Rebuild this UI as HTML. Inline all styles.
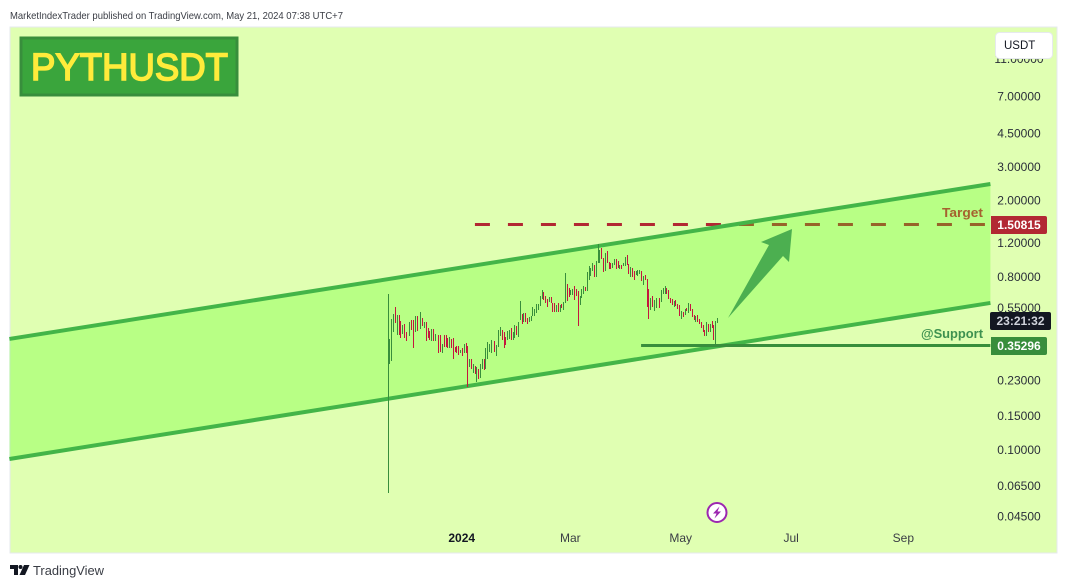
<!DOCTYPE html>
<html lang="en">
<head>
<meta charset="utf-8">
<title>PYTHUSDT chart</title>
<style>
html,body{margin:0;padding:0;background:#fff;}
body{width:1067px;height:588px;overflow:hidden;font-family:"Liberation Sans",sans-serif;}
svg{display:block;}
text{font-family:"Liberation Sans",sans-serif;}
</style>
</head>
<body>
<svg id="chart" xmlns="http://www.w3.org/2000/svg" width="1067" height="588" viewBox="0 0 1067 588">
  <rect x="0" y="0" width="1067" height="588" fill="#ffffff"/>
  <text x="10" y="19" font-size="10.5" fill="#3a3d45" textLength="333" lengthAdjust="spacingAndGlyphs">MarketIndexTrader published on TradingView.com, May 21, 2024 07:38 UTC+7</text>
  <rect x="10" y="27" width="1047" height="526" fill="#e0ffb2" stroke="#e6e9ee" stroke-width="1"/>
  <g id="plot"></g>
  <g id="yaxis"></g>
  <g id="xaxis"></g>

  <g>
    <rect x="21" y="38" width="216" height="57" fill="#3aa53c" stroke="#388e3c" stroke-width="3"/>
    <text x="31" y="80" font-size="38" font-weight="400" fill="#ffeb3b" stroke="#ffeb3b" stroke-width="1.6" textLength="197" lengthAdjust="spacingAndGlyphs">PYTHUSDT</text>
  </g>

  <text x="983" y="217" text-anchor="end" font-size="13" font-weight="700" fill="#a5622f" textLength="41" lengthAdjust="spacingAndGlyphs">Target</text>
  <text x="983" y="338" text-anchor="end" font-size="13" font-weight="700" fill="#3d9150" textLength="62" lengthAdjust="spacingAndGlyphs">@Support</text>

  <g>
    <rect x="995.5" y="32.5" width="57" height="26" rx="4" fill="#ffffff" stroke="#e6e9ee"/>
    <text x="1004" y="49" font-size="11.5" fill="#131722">USDT</text>
  </g>

  <g>
    <path d="M991 216H1045a2 2 0 0 1 2 2V232a2 2 0 0 1 -2 2H991Z" fill="#b22833"/>
    <text x="1019" y="229" text-anchor="middle" font-size="12" font-weight="700" fill="#ffffff">1.50815</text>
  </g>
  <g>
    <rect x="990" y="312" width="61" height="18" rx="2" fill="#131722"/>
    <text x="1020.5" y="325" text-anchor="middle" font-size="12" font-weight="700" fill="#d1d4dc">23:21:32</text>
  </g>
  <g>
    <path d="M991 337H1045a2 2 0 0 1 2 2V353a2 2 0 0 1 -2 2H991Z" fill="#388e3c"/>
    <text x="1019" y="350" text-anchor="middle" font-size="12" font-weight="700" fill="#ffffff">0.35296</text>
  </g>

  <g>
    <circle cx="717" cy="512.5" r="9.5" fill="#ffffff" stroke="#9c27b0" stroke-width="2"/>
    <path d="M719.5 506.5L713 513.5H716.5L714.5 518.5L721 511.5H717.5Z" fill="#9c27b0"/>
  </g>

  <g>
    <path d="M10 565H18V575H14V569H10Z" fill="#131722"/>
    <circle cx="20.5" cy="567" r="2" fill="#131722"/>
    <path d="M24 565H29.5L25 575H19.5Z" fill="#131722"/>
    <text x="33" y="575" font-size="13" fill="#3a3d45" textLength="71" lengthAdjust="spacingAndGlyphs">TradingView</text>
  </g>
</svg>
<script>
// --- Chart data ---
const priceTicks = [11, 7, 4.5, 3, 2, 1.2, 0.8, 0.55, 0.23, 0.15, 0.1, 0.065, 0.045];
const timeTickLabels = ['2024', 'Mar', 'May', 'Jul', 'Sep'];
const timeTickDays = [0, 60, 121, 182, 244];
const firstBarDay = -42;
const barHighs = [
.649,.378,.481,.511,.555,.505,.505,.470,.448,.453,.412,null,.464,.476,.476,.499,.499,null,.523,.487,
.464,.464,.432,.417,.427,.427,.402,null,.397,.397,.357,.397,.397,.383,.388,.378,.383,.344,.348,.348,
.332,.340,.357,.361,.348,.298,.298,.281,.274,.268,.264,.281,.295,.295,.340,.365,.357,.374,null,.369,
.352,.422,.437,.422,.412,.388,.417,.422,.432,.412,.448,.443,.464,.597,.511,.517,.517,.487,.493,.499,
.555,.542,.576,.576,.634,.681,.665,.634,.611,.626,.626,.583,.583,.569,.583,.569,.576,.590,.835,.732,
.698,.681,.690,.714,.690,.673,.634,.690,.714,.706,.845,.908,.886,.941,.919,.963,1.182,1.100,1.127,.999,
1.061,1.087,.952,.941,.941,.987,.987,.963,.919,.919,.941,1.011,1.036,.930,.897,.886,.855,.855,.865,.865,
.855,.805,.815,.777,.690,.619,.634,.604,.619,null,.619,.681,.698,.714,.698,.681,.619,.611,.597,.604,
.576,.569,.529,.523,.542,.549,.583,.576,.542,.505,.499,.505,.481,.464,.448,.422,.464,.453,.453,.470,
.448,.470,.487];
const barLows = [
.0592,.281,.288,.412,.458,.397,.397,.383,.402,.383,.369,null,.393,.422,.340,.412,.417,null,.427,.443,
.432,.369,.383,.374,.369,.369,.369,null,.317,.324,.320,.344,.344,.340,.340,.340,.298,.324,.317,.313,
.317,.309,.317,.320,.213,.268,.264,.252,.249,.226,.232,.235,.264,.261,.264,.295,.324,.317,null,.324,
.306,.344,.393,.374,.340,.352,.374,.378,.374,.374,.383,.397,.388,.476,.453,.464,.464,.453,.464,.470,
.499,.499,.517,.536,.562,.611,.604,.583,.555,.590,.583,.523,.523,.523,.523,.523,.549,.536,.583,.597,
.626,.641,.641,.604,.634,.443,.569,.619,.649,.673,.673,.768,.805,.855,.795,.795,.941,.941,.987,.845,
.855,.941,.875,.875,.886,.919,.875,.886,.875,.875,.908,.908,.919,.825,.795,.795,.768,.815,.805,.825,
.759,.723,.768,.555,.481,.536,.555,.529,.549,null,.549,.590,.649,.649,.649,.611,.583,.569,.555,.562,
.542,.499,.481,.493,.505,.529,.517,.529,.493,.476,.464,.464,.453,.432,.412,.393,.393,.412,.412,.432,
.374,.357,.458];
const barDirs = [
'g','g','g','g','r','g','r','r','g','r','r','-','g','r','r','g','r','-','g','r',
'g','r','r','r','g','r','g','-','r','r','g','r','r','r','g','r','r','r','r','r',
'g','r','g','r','r','g','r','g','r','g','r','g','g','r','g','g','g','g','-','r',
'g','g','g','r','r','r','g','g','r','g','g','r','g','g','r','g','r','r','g','g',
'g','g','g','g','g','g','r','r','r','g','r','r','r','g','r','g','r','g','g','r',
'r','g','g','r','r','r','g','g','g','r','g','g','g','g','r','g','g','g','r','r',
'g','r','r','r','g','g','r','r','g','r','g','g','r','r','g','r','r','g','g','g',
'r','g','r','r','r','g','r','g','g','-','r','g','g','g','r','r','r','r','g','r',
'r','r','g','r','g','r','g','r','r','r','g','r','r','r','r','r','g','r','g','r',
'r','g','g'];
const channelDays = [-251, 291];
const channelUpperPrices = [0.3775, 2.431];
const channelLowerPrices = [0.0892, 0.582];
const targetPrice = 1.50815;
const supportPrice = 0.35296;
const targetStartDay = 6.2;
const supportStartDay = 98;
const rightEdgeDay = 291;

// --- Axis functions ---
const Y_REF_PRICE = 7, Y_REF_PIXEL = 96, Y_PIXELS_PER_LOG = 83.2;
const X_ZERO = 463.7, X_PER_DAY = 1.81;
function yScale(p){ return Y_REF_PIXEL + Y_PIXELS_PER_LOG * Math.log(Y_REF_PRICE / p); }
function xScale(d){ return X_ZERO + X_PER_DAY * d; }
function snapY(p){ return Math.ceil(yScale(p)) + 0.5; }
const NS = 'http://www.w3.org/2000/svg';
function mk(tag, parent){ const e = document.createElementNS(NS, tag); parent.appendChild(e); return e; }

const plot = document.getElementById('plot');
const yaxis = document.getElementById('yaxis');
const xaxis = document.getElementById('xaxis');

// Target dashed line (under the channel fill)
const targetLine = mk('line', plot);


targetLine.setAttribute('x1', xScale(targetStartDay));
targetLine.setAttribute('x2', xScale(rightEdgeDay));
targetLine.setAttribute('y1', snapY(targetPrice));
targetLine.setAttribute('y2', snapY(targetPrice));
targetLine.setAttribute('stroke', '#b22833');
targetLine.setAttribute('stroke-width', '3');
targetLine.setAttribute('stroke-dasharray', '15 18');

// Channel
const x0 = xScale(channelDays[0]), x1 = xScale(channelDays[1]);
const channelFill = mk('polygon', plot);


channelFill.setAttribute('points',
  x0 + ',' + yScale(channelUpperPrices[0]) + ' ' + x1 + ',' + yScale(channelUpperPrices[1]) + ' ' +
  x1 + ',' + yScale(channelLowerPrices[1]) + ' ' + x0 + ',' + yScale(channelLowerPrices[0]));
channelFill.setAttribute('fill', 'rgba(80,255,15,0.276)');

const upperLine = mk('line', plot);


upperLine.setAttribute('x1', x0);
upperLine.setAttribute('y1', yScale(channelUpperPrices[0]));
upperLine.setAttribute('x2', x1);
upperLine.setAttribute('y2', yScale(channelUpperPrices[1]));
upperLine.setAttribute('stroke', '#43b548');
upperLine.setAttribute('stroke-width', '4');

const lowerLine = mk('line', plot);


lowerLine.setAttribute('x1', x0);
lowerLine.setAttribute('y1', yScale(channelLowerPrices[0]));
lowerLine.setAttribute('x2', x1);
lowerLine.setAttribute('y2', yScale(channelLowerPrices[1]));
lowerLine.setAttribute('stroke', '#43b548');
lowerLine.setAttribute('stroke-width', '4');

// Price bars
barHighs.forEach(function(h, i){
  const l = barLows[i];
  if (h === null || l === null) return;
  const top = Math.round(yScale(h)), bottom = Math.round(yScale(l));
  const r = mk('rect', plot);
  
  
  r.setAttribute('x', Math.round(xScale(firstBarDay + i)));
  r.setAttribute('y', top);
  r.setAttribute('width', '1');
  r.setAttribute('height', bottom - top);
  r.setAttribute('fill', barDirs[i] === 'r' ? '#c4163e' : '#388e3c');
  r.setAttribute('shape-rendering', 'crispEdges');
});

// Support line
const supportLine = mk('line', plot);


supportLine.setAttribute('x1', xScale(supportStartDay));
supportLine.setAttribute('x2', xScale(rightEdgeDay));
supportLine.setAttribute('y1', snapY(supportPrice));
supportLine.setAttribute('y2', snapY(supportPrice));
supportLine.setAttribute('stroke', '#388e3c');
supportLine.setAttribute('stroke-width', '3');

// Arrow annotation
const arrow = mk('polygon', plot);


arrow.setAttribute('points', '728,318 769,245 761,242 792,229 789,262 783,256');
arrow.setAttribute('fill', '#4caf50');

// Price axis labels
priceTicks.forEach(function(p){
  const t = mk('text', yaxis);
  
  
  t.setAttribute('x', 1019);
  t.setAttribute('y', yScale(p) + 4.5);
  t.setAttribute('text-anchor', 'middle');
  t.setAttribute('font-size', '12');
  t.setAttribute('fill', '#2a2e39');
  t.textContent = p.toFixed(5);
});

// Time axis labels
timeTickLabels.forEach(function(label, i){
  const t = mk('text', xaxis);
  
  
  t.setAttribute('x', xScale(timeTickDays[i]) - 2);
  t.setAttribute('y', 542);
  t.setAttribute('text-anchor', 'middle');
  t.setAttribute('font-size', '12');
  t.setAttribute('font-weight', label === '2024' ? '700' : '400');
  t.setAttribute('fill', label === '2024' ? '#131722' : '#3a3d45');
  t.textContent = label;
});
</script>
</body>
</html>
